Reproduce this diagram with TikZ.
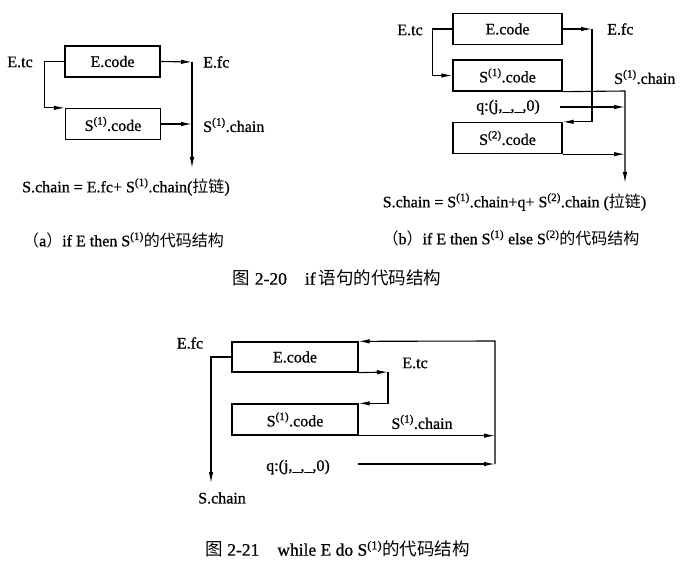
\documentclass[tikz,border=0pt]{standalone}
\usepackage{fontspec}
\setmainfont{Liberation Serif}[FakeBold=0.8]
\newfontfamily\cjk{Noto Sans CJK SC}
\usetikzlibrary{arrows.meta,positioning}

\begin{document}
\begin{tikzpicture}[
    x=1pt, y=-1pt,
    font=\fontsize{16}{19}\selectfont,
    codebox/.style={rectangle, draw, line width=1.3pt, minimum height=31pt, inner sep=0pt},
    tag/.style={inner sep=0pt},
    figcap/.style={inner sep=0pt, font=\fontsize{17.5}{21}\selectfont},
    flow/.style={-{Latex[length=11pt,width=4.5pt]}, line width=1.1pt},
    wire/.style={line width=1.1pt}
]
\useasboundingbox (0,0) rectangle (680,564);

% (a) if E then S1
\node[codebox, minimum width=95pt] (ecodeA) at (112.5,61.5) {E.code};
\node[codebox, minimum width=95pt] (s1codeA) at (113,124) {S\textsuperscript{(1)}.code};
\node[tag] (etcA) at (20,62) {E.tc};
\coordinate (mergeA) at (192,62);
\coordinate (endA) at (192,168);
\node[tag, anchor=west] (efcA) at (203,62) {E.fc};
\node[tag, anchor=west] (s1chainA) at (203,125) {S\textsuperscript{(1)}.chain};
\node[tag, anchor=west] (schainA) at (22,187) {S.chain = E.fc+ S\textsuperscript{(1)}.chain({\cjk 拉链})};
\node[tag] (capA) at (123.5,240) {{\cjk （}a{\cjk ）}if E then S\textsuperscript{(1)}{\cjk 的代码结构}};

\draw[flow] (ecodeA.west) -- ++(-20,0) |- (s1codeA.north west);
\draw[flow] (ecodeA.east) -- (mergeA);
\draw[flow] (mergeA) -- (endA);
\draw[flow] (s1codeA.east) -- (s1codeA.east -| mergeA);

% (b) if E then S1 else S2
\node[codebox, minimum width=109pt] (ecodeB) at (507.5,29) {E.code};
\node[codebox, minimum width=109pt] (s1codeB) at (507.5,75.5) {S\textsuperscript{(1)}.code};
\node[codebox, minimum width=109pt] (s2codeB) at (507.5,138) {S\textsuperscript{(2)}.code};
\node[tag] (etcB) at (410,30) {E.tc};
\node[tag, anchor=west] (efcB) at (607,29) {E.fc};
\node[tag, anchor=west] (s1chainB) at (614,77) {S\textsuperscript{(1)}.chain};
\node[tag] (qB) at (508,107) {q:(j,\_,\_,0)};
\coordinate (turnB) at (592,29);
\coordinate (joinB) at (625,91);
\coordinate (endB) at (625,183);
\coordinate (qstartB) at (560,107);
\node[tag] (schainB) at (514.5,202) {S.chain = S\textsuperscript{(1)}.chain+q+ S\textsuperscript{(2)}.chain ({\cjk 拉链})};
\node[tag] (capB) at (511,238) {{\cjk （}b{\cjk ）}if E then S\textsuperscript{(1)} else S\textsuperscript{(2)}{\cjk 的代码结构}};

\draw[flow] (ecodeB.west) -- ++(-20,0) |- (s1codeB.west);
\draw[flow] (ecodeB.east) -- (turnB);
\draw[flow] (turnB) |- (s2codeB.north east);
\draw[flow] (s1codeB.south east) -- (joinB) -- (endB);
\draw[flow] (qstartB) -- (qstartB -| joinB);
\draw[flow] (s2codeB.south east) -- (s2codeB.south east -| joinB);

\node[figcap] (fig20) at (337,278) {{\cjk 图}~2-20\hspace{18pt}if\,{\cjk 语句的代码结构}};

% while E do S1
\node[codebox, minimum width=126pt, minimum height=30pt] (ecodeC) at (295,357) {E.code};
\node[codebox, minimum width=126pt] (s1codeC) at (295,419.5) {S\textsuperscript{(1)}.code};
\node[tag] (efcC) at (190,343) {E.fc};
\node[tag] (etcC) at (415,363) {E.tc};
\node[tag] (s1chainC) at (422,422) {S\textsuperscript{(1)}.chain};
\node[tag] (qC) at (298,467) {q:(j,\_,\_,0)};
\node[tag] (schainC) at (222,498) {S.chain};
\coordinate (leftC) at (211,357);
\coordinate (endC) at (211,483);
\coordinate (loopC) at (388,372);
\coordinate (topC) at (495,341);
\coordinate (botC) at (495,464);
\coordinate (qstartC) at (358,464);

\draw[flow] (ecodeC.west) -- (leftC) -- (endC);
\draw[flow] (ecodeC.south east) -- (loopC);
\draw[flow] (loopC) |- (s1codeC.north east);
\draw[flow] (s1codeC.south east) -- (s1codeC.south east -| botC);
\draw[flow] (qstartC) -- (botC);
\draw[flow] (botC) -- (topC) -- (ecodeC.north east);

\node[figcap] (fig21) at (337.5,549) {{\cjk 图}~2-21\hspace{18pt}while E do S\textsuperscript{(1)}{\cjk 的代码结构}};
\end{tikzpicture}
\end{document}
